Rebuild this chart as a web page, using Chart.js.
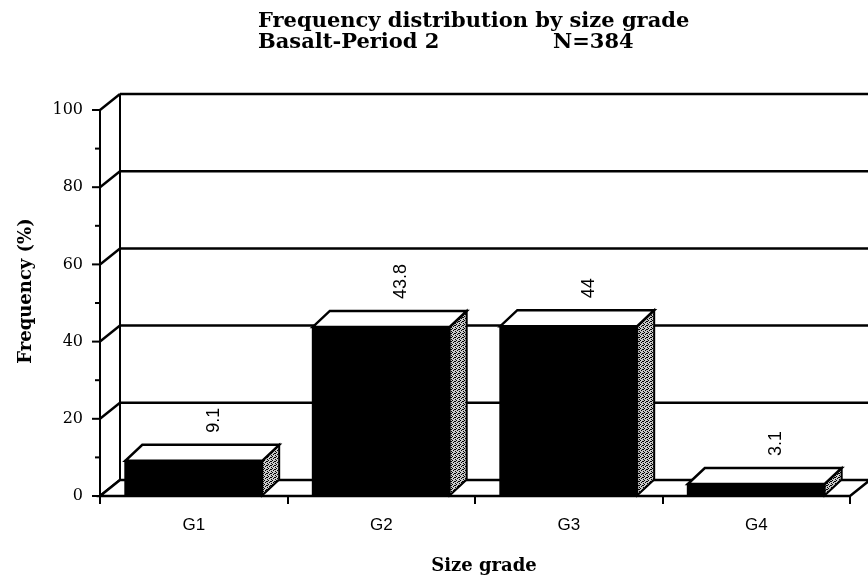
<!DOCTYPE html>
<html><head><meta charset="utf-8">
<script src="https://cdn.jsdelivr.net/npm/chart.js@4.4.1/dist/chart.umd.min.js"></script>
<style>html,body{margin:0;padding:0;background:#fff;}#wrap{width:868px;height:579px;}</style>
</head><body><div id="wrap"><canvas id="c" width="868" height="579"></canvas></div>
<script>
const categories = ['G1', 'G2', 'G3', 'G4'];
const frequency = [9.1, 43.8, 44, 3.1];
const valueLabels = ['9.1', '43.8', '44', '3.1'];
const yTicks = [0, 20, 40, 60, 80, 100];
const yMinorTicks = [10, 30, 50, 70, 90];
const titleLine1 = 'Frequency distribution by size grade';
const titleLine2a = 'Basalt-Period 2';
const titleLine2b = 'N=384';
const xTitle = 'Size grade';
const yTitle = 'Frequency (%)';

const DX = 20, DXB = 17, DY = -16;
const SERIF = '"DejaVu Serif", serif';
const SANS = '"Liberation Sans", Arial, sans-serif';

function makePattern(ctx) {
  const c = document.createElement('canvas');
  c.width = 4; c.height = 4;
  const g = c.getContext('2d');
  g.fillStyle = '#c8c8c8'; g.fillRect(0, 0, 4, 4);
  g.fillStyle = '#000';
  [[0,0],[2,1],[1,2],[3,3],[3,1]].forEach(p => g.fillRect(p[0], p[1], 1, 1));
  return ctx.createPattern(c, 'repeat');
}

const threeD = {
  id: 'threeD',
  beforeDatasetsDraw(chart) {
    const {ctx, chartArea: a, scales: {y}} = chart;
    ctx.save();
    ctx.strokeStyle = '#000';
    ctx.lineWidth = 2.5;
    yTicks.forEach(v => {
      const py = y.getPixelForValue(v);
      if (v > 0) {
        ctx.beginPath(); ctx.moveTo(a.left + DX, py + DY); ctx.lineTo(a.right + DX, py + DY); ctx.stroke();
      }
      ctx.beginPath(); ctx.moveTo(a.left, py); ctx.lineTo(a.left + DX, py + DY); ctx.stroke();
    });
    ctx.lineWidth = 2;
    ctx.beginPath(); ctx.moveTo(a.left + DX, a.top + DY); ctx.lineTo(a.left + DX, a.bottom + DY); ctx.stroke();
    // floor
    ctx.beginPath();
    ctx.moveTo(a.left, a.bottom); ctx.lineTo(a.right, a.bottom);
    ctx.lineTo(a.right + DX, a.bottom + DY); ctx.lineTo(a.left + DX, a.bottom + DY);
    ctx.closePath();
    ctx.fillStyle = '#fff'; ctx.fill();
    ctx.lineWidth = 2.5; ctx.stroke();
    // y axis line + ticks
    ctx.lineWidth = 2;
    ctx.beginPath(); ctx.moveTo(a.left, a.top); ctx.lineTo(a.left, a.bottom + 1); ctx.stroke();
    yTicks.forEach(v => {
      const py = y.getPixelForValue(v);
      ctx.beginPath(); ctx.moveTo(a.left - 8, py); ctx.lineTo(a.left, py); ctx.stroke();
    });
    yMinorTicks.forEach(v => {
      const py = y.getPixelForValue(v);
      ctx.beginPath(); ctx.moveTo(a.left - 5, py); ctx.lineTo(a.left, py); ctx.stroke();
    });
    ctx.restore();
  },
  afterDatasetsDraw(chart) {
    const {ctx} = chart;
    const meta = chart.getDatasetMeta(0);
    const pat = makePattern(ctx);
    ctx.save();
    ctx.strokeStyle = '#000';
    ctx.lineJoin = 'miter';
    meta.data.forEach((bar, i) => {
      const p = bar.getProps(['x', 'y', 'base', 'width'], true);
      const l = p.x - p.width / 2, r = p.x + p.width / 2;
      ctx.lineWidth = 2;
      ctx.strokeRect(l, p.y, p.width, p.base - p.y);
      // side face
      ctx.beginPath();
      ctx.moveTo(r, p.y); ctx.lineTo(r + DXB, p.y + DY); ctx.lineTo(r + DXB, p.base + DY); ctx.lineTo(r, p.base);
      ctx.closePath();
      ctx.fillStyle = pat; ctx.fill(); ctx.stroke();
      // top face
      ctx.beginPath();
      ctx.moveTo(l, p.y); ctx.lineTo(r, p.y); ctx.lineTo(r + DXB, p.y + DY); ctx.lineTo(l + DXB, p.y + DY);
      ctx.closePath();
      ctx.fillStyle = '#fff'; ctx.fill(); ctx.lineWidth = 2.5; ctx.stroke();
      // value label
      ctx.save();
      ctx.translate(p.x + 20, p.y + DY - 12);
      ctx.rotate(-Math.PI / 2);
      ctx.font = '18px ' + SANS;
      ctx.fillStyle = '#000';
      ctx.textAlign = 'left'; ctx.textBaseline = 'middle';
      ctx.fillText(valueLabels[i], 0, 0);
      ctx.restore();
    });
    ctx.restore();
  },
  afterDraw(chart) {
    const {ctx} = chart;
    ctx.save();
    ctx.fillStyle = '#000';
    ctx.font = 'bold 21px ' + SERIF;
    ctx.textAlign = 'left'; ctx.textBaseline = 'alphabetic';
    ctx.fillText(titleLine1, 258, 27);
    ctx.fillText(titleLine2a, 258, 48);
    ctx.fillText(titleLine2b, 553, 48);
    ctx.font = 'bold 18px ' + SERIF;
    ctx.textAlign = 'center';
    ctx.fillText(xTitle, 484, 571);
    ctx.translate(26, 291);
    ctx.rotate(-Math.PI / 2);
    ctx.textBaseline = 'middle';
    ctx.fillText(yTitle, 0, 0);
    ctx.restore();
  }
};

new Chart(document.getElementById('c'), {
  type: 'bar',
  data: {
    labels: categories,
    datasets: [{
      data: frequency,
      backgroundColor: '#000',
      borderWidth: 0,
      barPercentage: 0.73,
      categoryPercentage: 1.0
    }]
  },
  options: {
    responsive: false,
    devicePixelRatio: 1,
    animation: false,
    events: [],
    layout: {padding: {top: 110, left: 0, right: 18, bottom: 0}},
    plugins: {legend: {display: false}, tooltip: {enabled: false}, title: {display: false}},
    scales: {
      x: {
        offset: true,
        grid: {display: true, offset: true, drawOnChartArea: false, drawTicks: true, tickLength: 8, color: '#000', lineWidth: 2},
        border: {display: false},
        ticks: {color: '#000', font: {family: SANS, size: 17}, padding: 11, maxRotation: 0},
        afterFit(s) { s.height = 83; }
      },
      y: {
        min: 0, max: 100,
        ticks: {stepSize: 20, color: '#000', font: {family: SERIF, size: 16}, padding: 9},
        grid: {display: true, drawOnChartArea: false, drawTicks: true, tickLength: 8, color: 'rgba(0,0,0,0)'},
        border: {display: false},
        afterFit(s) { s.width = 100; }
      }
    }
  },
  plugins: [threeD]
});
</script></body></html>
